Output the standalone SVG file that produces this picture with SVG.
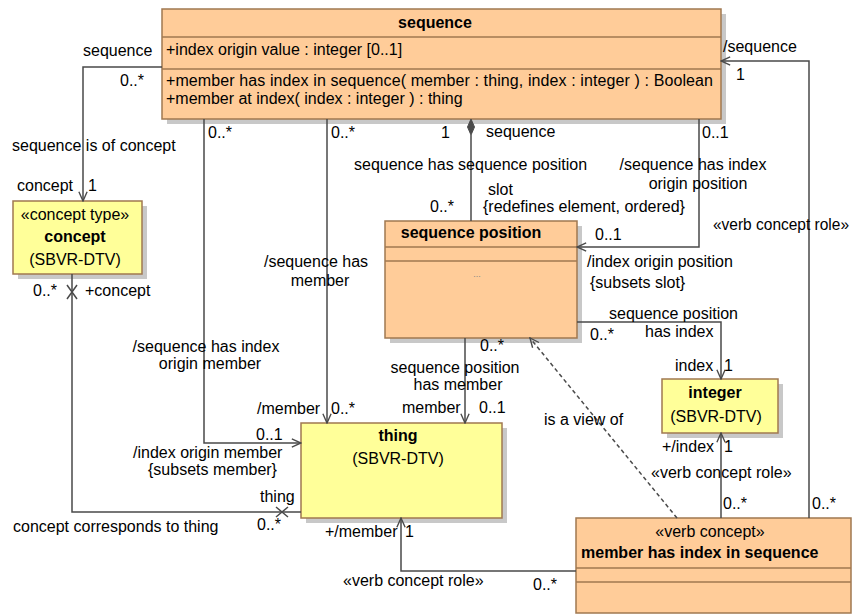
<svg xmlns="http://www.w3.org/2000/svg" width="852" height="615" viewBox="0 0 852 615">
<style>
text{font-family:"Liberation Sans",Arial,sans-serif;font-size:16px;fill:#000}
.b{font-weight:bold}
.m{text-anchor:middle}
.or{fill:#FFCC99;stroke:#A07850;stroke-width:1.5}
.ye{fill:#FFFF99;stroke:#A07850;stroke-width:1.5}
.sh{fill:#C8C8C8}
.dv{stroke:#A07850;stroke-width:1.5}
.ln{fill:none;stroke:#4A4A4A;stroke-width:1.5}
.ar{marker-end:url(#arr)}
.dash{stroke-dasharray:4,3}
</style>
<defs>
<marker id="arr" viewBox="0 0 12 12" refX="11" refY="6" markerWidth="11" markerHeight="11" markerUnits="userSpaceOnUse" orient="auto">
<path d="M1,1.5 L11,6 L1,10.5" fill="none" stroke="#4A4A4A" stroke-width="1.5"/>
</marker>
</defs>
<rect width="852" height="615" fill="#fff"/>

<g id="sequence">
<rect class="sh" x="167" y="14" width="559" height="110"/>
<rect class="or" x="162" y="9" width="559" height="110"/>
<line class="dv" x1="162" y1="37" x2="721" y2="37"/>
<line class="dv" x1="162" y1="69" x2="721" y2="69"/>
<text class="b m" x="435" y="28">sequence</text>
<text x="166" y="55">+index origin value : integer [0..1]</text>
<text x="166" y="86" textLength="547" lengthAdjust="spacing">+member has index in sequence( member : thing, index : integer ) : Boolean</text>
<text x="166" y="104">+member at index( index : integer ) : thing</text>
</g>

<g id="concept">
<rect class="sh" x="18" y="206" width="129" height="73"/>
<rect class="ye" x="13" y="201" width="129" height="73"/>
<text class="m" x="75" y="220">«concept type»</text>
<text class="b m" x="75" y="242">concept</text>
<text class="m" x="75" y="265">(SBVR-DTV)</text>
</g>

<g id="sequence-position">
<rect class="sh" x="390" y="226" width="192" height="117"/>
<rect class="or" x="385" y="221" width="192" height="117"/>
<line class="dv" x1="385" y1="247" x2="577" y2="247"/>
<line class="dv" x1="385" y1="261" x2="577" y2="261"/>
<text class="b m" x="471" y="238">sequence position</text>
<text class="m" x="477" y="277" style="font-size:9px;fill:#888">...</text>
</g>

<g id="integer">
<rect class="sh" x="667" y="384" width="116" height="54"/>
<rect class="ye" x="662" y="379" width="116" height="54"/>
<text class="b m" x="715" y="398">integer</text>
<text class="m" x="716" y="422">(SBVR-DTV)</text>
</g>

<g id="thing">
<rect class="sh" x="306" y="428" width="201" height="95"/>
<rect class="ye" x="301" y="423" width="201" height="95"/>
<text class="b m" x="398" y="441">thing</text>
<text class="m" x="398" y="464">(SBVR-DTV)</text>
</g>

<g id="verb-concept">
<rect class="or" x="576" y="518" width="275" height="95"/>
<line class="dv" x1="576" y1="568" x2="851" y2="568"/>
<line class="dv" x1="576" y1="582" x2="851" y2="582"/>
<text class="m" x="710" y="537">«verb concept»</text>
<text class="b" x="581" y="558">member has index in sequence</text>
</g>

<g id="connectors">
<path class="ln ar" d="M162,67 H83 V201"/>
<path class="ln" d="M72,274 V512 H301"/>
<path class="ln" d="M67,285 L77,299 M77,285 L67,299"/>
<path class="ln" d="M276,507 L288,517 M276,517 L288,507"/>
<path class="ln ar" d="M327,119 V423"/>
<path class="ln ar" d="M204,119 V443 H301"/>
<polygon points="471,119 474.5,127 471,135 467.5,127" fill="#4A4A4A" stroke="#4A4A4A"/>
<path class="ln" d="M471,135 V221"/>
<path class="ln ar" d="M699,119 V247 H577"/>
<path class="ln ar" d="M577,322 H721 V379"/>
<path class="ln ar" d="M465,338 V423"/>
<path class="ln ar dash" d="M677,518 L530,338"/>
<path class="ln ar" d="M721,518 V433"/>
<path class="ln ar" d="M809,518 V61 H721"/>
<path class="ln ar" d="M576,571 H401 V518"/>

<text x="83" y="56">sequence</text>
<text x="120" y="86">0..*</text>
<text x="12" y="151">sequence is of concept</text>
<text x="17" y="191">concept</text>
<text x="88" y="191">1</text>
<text x="33" y="296">0..*</text>
<text x="85" y="296">+concept</text>
<text x="260" y="502">thing</text>
<text x="257" y="530">0..*</text>
<text x="13" y="532">concept corresponds to thing</text>

<text x="208" y="138">0..*</text>
<text class="m" x="206" y="352">/sequence has index</text>
<text class="m" x="210" y="369">origin member</text>
<text x="256" y="440">0..1</text>
<text x="133" y="458">/index origin member</text>
<text x="148" y="475">{subsets member}</text>

<text x="331" y="138">0..*</text>
<text class="m" x="316" y="267">/sequence has</text>
<text class="m" x="320" y="286">member</text>
<text x="257" y="414">/member</text>
<text x="331" y="414">0..*</text>

<text x="441" y="138">1</text>
<text x="486" y="137">sequence</text>
<text x="354" y="170">sequence has sequence position</text>
<text x="488" y="195">slot</text>
<text x="430" y="212">0..*</text>
<text x="483" y="212">{redefines element, ordered}</text>

<text x="702" y="138">0..1</text>
<text class="m" x="693" y="170">/sequence has index</text>
<text class="m" x="698" y="189">origin position</text>
<text x="595" y="240">0..1</text>
<text x="587" y="267">/index origin position</text>
<text x="590" y="288">{subsets slot}</text>

<text x="609" y="319">sequence position</text>
<text x="645" y="337">has index</text>
<text x="590" y="340">0..*</text>
<text x="675" y="371">index</text>
<text x="724" y="371">1</text>

<text x="480" y="351">0..*</text>
<text class="m" x="455" y="373">sequence position</text>
<text class="m" x="458" y="390">has member</text>
<text x="402" y="413">member</text>
<text x="479" y="413">0..1</text>

<text x="544" y="425">is a view of</text>

<text x="662" y="452">+/index</text>
<text x="724" y="452">1</text>
<text x="651" y="478">«verb concept role»</text>
<text x="723" y="509">0..*</text>

<text x="723" y="52">/sequence</text>
<text x="736" y="80">1</text>
<text x="713" y="230" textLength="136" lengthAdjust="spacingAndGlyphs">«verb concept role»</text>
<text x="812" y="509">0..*</text>

<text x="325" y="537">+/member</text>
<text x="405" y="537">1</text>
<text x="343" y="586">«verb concept role»</text>
<text x="533" y="590">0..*</text>
</g>
</svg>
